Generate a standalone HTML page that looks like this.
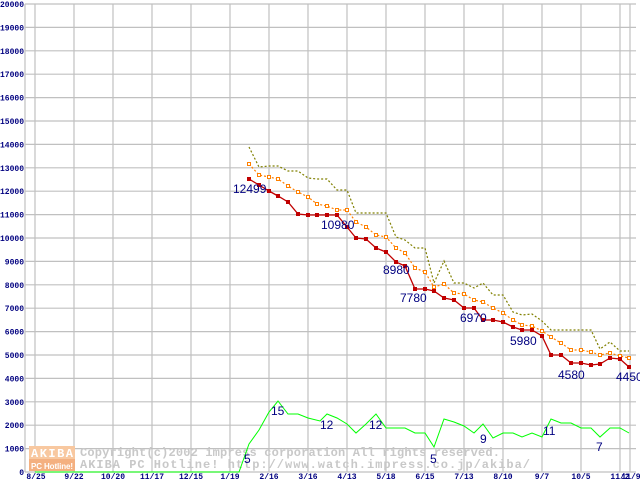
<!DOCTYPE html>
<html><head><meta charset="utf-8"><style>
html,body{margin:0;padding:0;background:#fff;}
svg{display:block;}
.t{font-family:"Liberation Mono",monospace;font-size:8px;font-weight:bold;fill:#000080;}
.l{font-family:"Liberation Sans",sans-serif;font-size:12px;fill:#000080;}
.w{font-family:"Liberation Mono",monospace;font-size:12px;font-weight:bold;fill:#c8c8c8;}
</style></head><body>
<svg width="640" height="480" viewBox="0 0 640 480" xmlns="http://www.w3.org/2000/svg">
<rect width="640" height="480" fill="#fff"/>
<g stroke="#c0c0c0" stroke-width="1.2">
<line x1="25" y1="4" x2="636" y2="4"/><line x1="25" y1="27.4" x2="636" y2="27.4"/><line x1="25" y1="50.8" x2="636" y2="50.8"/><line x1="25" y1="74.2" x2="636" y2="74.2"/><line x1="25" y1="97.6" x2="636" y2="97.6"/><line x1="25" y1="121" x2="636" y2="121"/><line x1="25" y1="144.4" x2="636" y2="144.4"/><line x1="25" y1="167.8" x2="636" y2="167.8"/><line x1="25" y1="191.2" x2="636" y2="191.2"/><line x1="25" y1="214.6" x2="636" y2="214.6"/><line x1="25" y1="238" x2="636" y2="238"/><line x1="25" y1="261.4" x2="636" y2="261.4"/><line x1="25" y1="284.8" x2="636" y2="284.8"/><line x1="25" y1="308.2" x2="636" y2="308.2"/><line x1="25" y1="331.6" x2="636" y2="331.6"/><line x1="25" y1="355" x2="636" y2="355"/><line x1="25" y1="378.4" x2="636" y2="378.4"/><line x1="25" y1="401.8" x2="636" y2="401.8"/><line x1="25" y1="425.2" x2="636" y2="425.2"/><line x1="25" y1="448.6" x2="636" y2="448.6"/><line x1="25" y1="472" x2="636" y2="472"/>
<line x1="25" y1="4" x2="25" y2="472"/>
<line x1="35" y1="4" x2="35" y2="472"/><line x1="74" y1="4" x2="74" y2="472"/><line x1="113" y1="4" x2="113" y2="472"/><line x1="152" y1="4" x2="152" y2="472"/><line x1="191" y1="4" x2="191" y2="472"/><line x1="230" y1="4" x2="230" y2="472"/><line x1="269" y1="4" x2="269" y2="472"/><line x1="308" y1="4" x2="308" y2="472"/><line x1="347" y1="4" x2="347" y2="472"/><line x1="386" y1="4" x2="386" y2="472"/><line x1="425" y1="4" x2="425" y2="472"/><line x1="464" y1="4" x2="464" y2="472"/><line x1="503" y1="4" x2="503" y2="472"/><line x1="542" y1="4" x2="542" y2="472"/><line x1="581" y1="4" x2="581" y2="472"/><line x1="620" y1="4" x2="620" y2="472"/><line x1="630" y1="4" x2="630" y2="472"/>
</g>
<g class="t" text-anchor="end">
<text x="24" y="7">20000</text><text x="24" y="30.4">19000</text><text x="24" y="53.8">18000</text><text x="24" y="77.2">17000</text><text x="24" y="100.6">16000</text><text x="24" y="124">15000</text><text x="24" y="147.4">14000</text><text x="24" y="170.8">13000</text><text x="24" y="194.2">12000</text><text x="24" y="217.6">11000</text><text x="24" y="241">10000</text><text x="24" y="264.4">9000</text><text x="24" y="287.8">8000</text><text x="24" y="311.2">7000</text><text x="24" y="334.6">6000</text><text x="24" y="358">5000</text><text x="24" y="381.4">4000</text><text x="24" y="404.8">3000</text><text x="24" y="428.2">2000</text><text x="24" y="451.6">1000</text><text x="24" y="475">0</text>
</g>
<g class="t" text-anchor="middle">
<text x="36" y="479">8/25</text><text x="74" y="479">9/22</text><text x="113" y="479">10/20</text><text x="152" y="479">11/17</text><text x="191" y="479">12/15</text><text x="230" y="479">1/19</text><text x="269" y="479">2/16</text><text x="308" y="479">3/16</text><text x="347" y="479">4/13</text><text x="386" y="479">5/18</text><text x="425" y="479">6/15</text><text x="464" y="479">7/13</text><text x="503" y="479">8/10</text><text x="542" y="479">9/7</text><text x="581" y="479">10/5</text><text x="620" y="479">11/2</text><text x="631" y="479">11/9</text>
</g>
<rect x="29" y="446" width="46" height="13" fill="#f8c8a0"/>
<rect x="29" y="459" width="46" height="12" fill="#f4b080"/>
<text x="31" y="457" font-family="Liberation Mono,monospace" font-size="12" font-weight="bold" fill="#fff" textLength="42">AKIBA</text>
<text x="31" y="469" font-family="Liberation Sans,sans-serif" font-size="8" font-weight="bold" fill="#fff" textLength="42">PC Hotline!</text>
<text class="w" x="80" y="456" textLength="420">Copyright(c)2002 impress corporation All rights reserved.</text>
<text class="w" x="80" y="468" textLength="450">AKIBA PC Hotline!  http://www.watch.impress.co.jp/akiba/</text>
<polyline fill="none" stroke="#00ff00" stroke-width="1" points="35,472 239,472 249,444 259,430 269,412 278,401 288,414 298,414 308,418 320,421 327,414 337,418 347,424 356,433 366,424 376,414 386,428 396,428 405,428 415,433 425,433 434,447 444,419 454,422 464,426 474,433 483,424 493,438 503,433 513,433 522,437 532,433 542,437 551,419 561,423 571,423 581,428 591,428 600,437 610,428 620,428 629,433"/>
<polyline fill="none" stroke="#808000" stroke-width="1.2" stroke-dasharray="2,2" points="249,147 259,167 269,166 278,166 288,171 298,171 308,178 317,179 327,179 337,190 347,190 356,213 366,213 376,213 386,213 396,237 405,240 415,248 425,248 434,283 444,261 454,283 464,283 474,288 483,283 493,295 503,295 513,312 522,315 532,314 542,321 551,330 561,330 571,330 581,330 591,330 600,349 610,342 620,351 629,351"/>
<polyline fill="none" stroke="#ff8000" stroke-width="1.2" stroke-dasharray="2,2" points="249,164 259,175 269,177 278,179 288,186 298,192 308,197 317,204 327,206 337,210 347,210 356,222 366,227 376,235 386,237 396,248 405,253 415,268 425,272 434,287 444,284 454,293 464,294 474,300 483,302 493,308 503,313 513,320 522,325 532,326 542,331 551,337 561,343 571,350 581,350 591,352 600,355 610,353 620,356 629,358"/>
<g fill="#fff" stroke="#ff8000" stroke-width="1">
<rect x="247.5" y="162.5" width="3" height="3"/><rect x="257.5" y="173.5" width="3" height="3"/><rect x="267.5" y="175.5" width="3" height="3"/><rect x="276.5" y="177.5" width="3" height="3"/><rect x="286.5" y="184.5" width="3" height="3"/><rect x="296.5" y="190.5" width="3" height="3"/><rect x="306.5" y="195.5" width="3" height="3"/><rect x="315.5" y="202.5" width="3" height="3"/><rect x="325.5" y="204.5" width="3" height="3"/><rect x="335.5" y="208.5" width="3" height="3"/><rect x="345.5" y="208.5" width="3" height="3"/><rect x="354.5" y="220.5" width="3" height="3"/><rect x="364.5" y="225.5" width="3" height="3"/><rect x="374.5" y="233.5" width="3" height="3"/><rect x="384.5" y="235.5" width="3" height="3"/><rect x="394.5" y="246.5" width="3" height="3"/><rect x="403.5" y="251.5" width="3" height="3"/><rect x="413.5" y="266.5" width="3" height="3"/><rect x="423.5" y="270.5" width="3" height="3"/><rect x="432.5" y="285.5" width="3" height="3"/><rect x="442.5" y="282.5" width="3" height="3"/><rect x="452.5" y="291.5" width="3" height="3"/><rect x="462.5" y="292.5" width="3" height="3"/><rect x="472.5" y="298.5" width="3" height="3"/><rect x="481.5" y="300.5" width="3" height="3"/><rect x="491.5" y="306.5" width="3" height="3"/><rect x="501.5" y="311.5" width="3" height="3"/><rect x="511.5" y="318.5" width="3" height="3"/><rect x="520.5" y="323.5" width="3" height="3"/><rect x="530.5" y="324.5" width="3" height="3"/><rect x="540.5" y="329.5" width="3" height="3"/><rect x="549.5" y="335.5" width="3" height="3"/><rect x="559.5" y="341.5" width="3" height="3"/><rect x="569.5" y="348.5" width="3" height="3"/><rect x="579.5" y="348.5" width="3" height="3"/><rect x="589.5" y="350.5" width="3" height="3"/><rect x="598.5" y="353.5" width="3" height="3"/><rect x="608.5" y="351.5" width="3" height="3"/><rect x="618.5" y="354.5" width="3" height="3"/><rect x="627.5" y="356.5" width="3" height="3"/>
</g>
<polyline fill="none" stroke="#c00000" stroke-width="1.3" points="249,179 259,185 269,191 278,196 288,202 298,214 308,215 317,215 327,215 337,215 347,227 356,238 366,239 376,248 386,252 396,262 405,266 415,289 425,289 434,291 444,298 454,300 464,308 474,308 483,320 493,320 503,322 513,327 522,330 532,330 542,336 551,355 561,355 571,363 581,363 591,365 600,364 610,358 620,359 629,367"/>
<g fill="#c00000">
<rect x="247" y="177" width="4" height="4"/><rect x="257" y="183" width="4" height="4"/><rect x="267" y="189" width="4" height="4"/><rect x="276" y="194" width="4" height="4"/><rect x="286" y="200" width="4" height="4"/><rect x="296" y="212" width="4" height="4"/><rect x="306" y="213" width="4" height="4"/><rect x="315" y="213" width="4" height="4"/><rect x="325" y="213" width="4" height="4"/><rect x="335" y="213" width="4" height="4"/><rect x="345" y="225" width="4" height="4"/><rect x="354" y="236" width="4" height="4"/><rect x="364" y="237" width="4" height="4"/><rect x="374" y="246" width="4" height="4"/><rect x="384" y="250" width="4" height="4"/><rect x="394" y="260" width="4" height="4"/><rect x="403" y="264" width="4" height="4"/><rect x="413" y="287" width="4" height="4"/><rect x="423" y="287" width="4" height="4"/><rect x="432" y="289" width="4" height="4"/><rect x="442" y="296" width="4" height="4"/><rect x="452" y="298" width="4" height="4"/><rect x="462" y="306" width="4" height="4"/><rect x="472" y="306" width="4" height="4"/><rect x="481" y="318" width="4" height="4"/><rect x="491" y="318" width="4" height="4"/><rect x="501" y="320" width="4" height="4"/><rect x="511" y="325" width="4" height="4"/><rect x="520" y="328" width="4" height="4"/><rect x="530" y="328" width="4" height="4"/><rect x="540" y="334" width="4" height="4"/><rect x="549" y="353" width="4" height="4"/><rect x="559" y="353" width="4" height="4"/><rect x="569" y="361" width="4" height="4"/><rect x="579" y="361" width="4" height="4"/><rect x="589" y="363" width="4" height="4"/><rect x="598" y="362" width="4" height="4"/><rect x="608" y="356" width="4" height="4"/><rect x="618" y="357" width="4" height="4"/><rect x="627" y="365" width="4" height="4"/>
</g>
<g class="l">
<text x="233" y="193">12499</text><text x="321" y="229">10980</text><text x="383" y="274">8980</text><text x="400" y="302">7780</text><text x="460" y="322">6970</text><text x="510" y="345">5980</text><text x="558" y="379">4580</text><text x="616" y="381">4450</text>
<text x="244" y="463">5</text><text x="271" y="415">15</text><text x="320" y="429">12</text><text x="369" y="429">12</text><text x="430" y="463">5</text><text x="480" y="443">9</text><text x="543" y="435">11</text><text x="596" y="451">7</text>
</g>
</svg>
</body></html>
